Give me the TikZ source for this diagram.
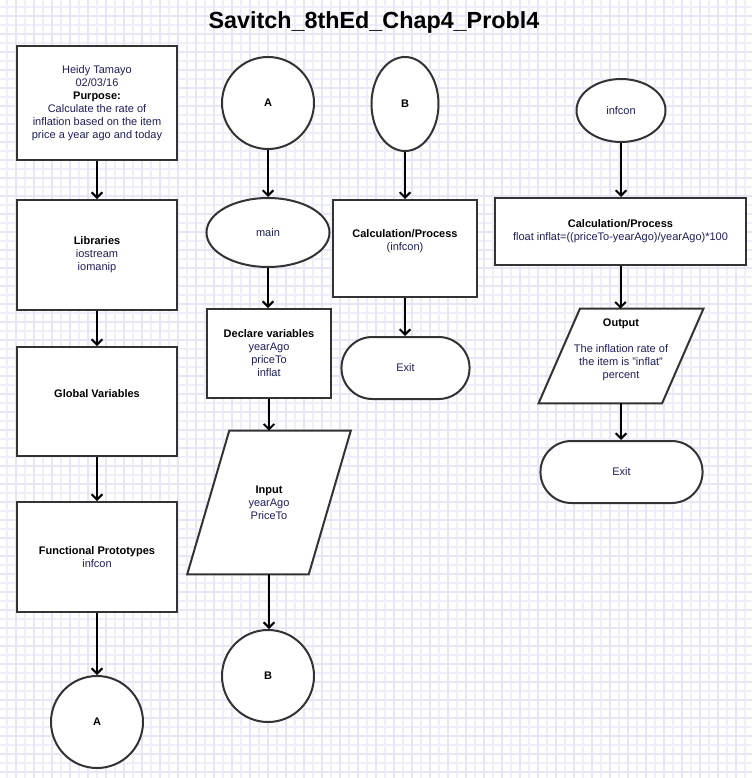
\documentclass[tikz,border=0pt]{standalone}
\usepackage{fontspec}
\setmainfont{Liberation Sans}
\definecolor{linegray}{HTML}{333333}
\definecolor{textnavy}{HTML}{1E1E5A}
\definecolor{gridminor}{HTML}{EFEFFA}
\definecolor{gridmajor}{HTML}{E6E6F6}
\usepackage{tikz}
\usetikzlibrary{arrows.meta, shapes.geometric, shapes.misc, backgrounds, calc}
\newcommand{\boxfont}{\fontsize{8.25}{9.75}\selectfont}
\newcommand{\boxhead}[1]{{\color{black}\bfseries #1}}
\newcommand{\flowto}[2]
{
	\draw[flowline] (#1) -- (#1 |- #2.north)
}
\newcommand{\slantbox}[2]
{
	\draw[shapeline, fill = white] ([xshift = #2]#1.north west) -- ([xshift = #2]#1.north east) -- ([xshift = -#2]#1.south east) -- ([xshift = -#2]#1.south west) -- cycle
}

\begin{document}
\begin{tikzpicture}[x = 0.75pt, y = -0.75pt,
	every node/.append style = {font = \boxfont, text = textnavy, align = center},
	procbox/.style = {rectangle, draw = linegray, line width = 1.5pt, fill = white},
	connector/.style = {circle, draw = linegray, line width = 1.5pt, fill = white, minimum size = 69pt},
	startbox/.style = {ellipse, draw = linegray, line width = 1.5pt, fill = white},
	endbox/.style = {rounded rectangle, draw = linegray, line width = 1.5pt, fill = white, minimum height = 46.5pt},
	iobox/.style = {rectangle, inner sep = 0pt},
	flowline/.style = {draw = black, line width = 1.5pt, -{Straight Barb[length = 4pt, width = 8pt]}},
	shapeline/.style = {draw = linegray, line width = 1.5pt}]

	\useasboundingbox (0,0) rectangle (752,778);

	\node[font = {\fontsize{17.5}{21}\selectfont\bfseries}, text = black] (title) at (374,22) {Savitch\_8thEd\_Chap4\_Probl4};

	\node[procbox, minimum width = 120pt, minimum height = 85.5pt] (hdr) at (97,103) {Heidy Tamayo\\02/03/16\\\boxhead{Purpose:}\\Calculate the rate of\\inflation based on the item\\price a year ago and today};
	\node[procbox, minimum width = 120pt, minimum height = 82.5pt] (lib) at (97,255) {\boxhead{Libraries}\\iostream\\iomanip};
	\node[procbox, minimum width = 120pt, minimum height = 81.75pt, text depth = 12.5pt] (glob) at (97,401.5) {\boxhead{Global Variables}};
	\node[procbox, minimum width = 120pt, minimum height = 82.5pt] (proto) at (97,557) {\boxhead{Functional Prototypes}\\infcon};
	\node[connector] (a2) at (97,722) {\boxhead{A}};

	\node[connector] (a1) at (268,103) {\boxhead{A}};
	\node[startbox, minimum width = 92.25pt, minimum height = 51.75pt] (mn) at (268,232.5) {main};
	\node[procbox, minimum width = 93pt, minimum height = 66.75pt] (decl) at (269,353.5) {\boxhead{Declare variables}\\yearAgo\\priceTo\\inflat};
	\node[iobox, minimum width = 90.75pt, minimum height = 107.25pt] (inp) at (269,502.5) {\boxhead{Input}\\yearAgo\\PriceTo};
	\node[connector] (b2) at (268,676) {\boxhead{B}};

	\node[startbox, minimum width = 50.25pt, minimum height = 70.5pt] (b1) at (405,104) {\boxhead{B}};
	\node[procbox, minimum width = 108pt, minimum height = 72.75pt, text depth = 12.5pt] (calc1) at (405,248.5) {\boxhead{Calculation/Process}\\(infcon)};
	\node[endbox, minimum width = 102.75pt] (exit1) at (405.5,368) {Exit};

	\node[startbox, minimum width = 66.75pt, minimum height = 47.25pt] (inf) at (621,110.5) {infcon};
	\node[procbox, minimum width = 188.25pt, minimum height = 50.25pt] (calc2) at (620.5,231.5) {\boxhead{Calculation/Process}\\float inflat=((priceTo-yearAgo)/yearAgo)*100};
	\node[iobox, minimum width = 92.25pt, minimum height = 70.5pt, text depth = 11pt] (outp) at (621,356) {\boxhead{Output}\\[9.75pt]The inflation rate of\\the item is "inflat"\\percent};
	\node[endbox, minimum width = 128.25pt] (exit2) at (621.5,472) {Exit};

	\flowto{hdr}{lib};
	\flowto{lib}{glob};
	\flowto{glob}{proto};
	\flowto{proto}{a2};
	\flowto{a1}{mn};
	\flowto{mn}{decl};
	\flowto{decl}{inp};
	\flowto{inp}{b2};
	\flowto{b1}{calc1};
	\flowto{calc1}{exit1};
	\flowto{inf}{calc2};
	\flowto{calc2}{outp};
	\flowto{outp}{exit2};

	\begin{pgfonlayer}{background}
	\fill[white] (0,0) rectangle (752,778);
	\foreach \g in {7,16,...,752} \draw[gridminor, line width = 1.1pt] (\g,0) -- (\g,778);
	\foreach \g in {7,16,...,778} \draw[gridminor, line width = 1.1pt] (0,\g) -- (752,\g);
	\foreach \g in {16,34,...,752} \draw[gridmajor, line width = 1.1pt] (\g,0) -- (\g,778);
	\foreach \g in {16,34,...,778} \draw[gridmajor, line width = 1.1pt] (0,\g) -- (752,\g);
	\slantbox{inp}{15.75pt};
	\slantbox{outp}{15.5pt};
	\end{pgfonlayer}
\end{tikzpicture}
\end{document}
